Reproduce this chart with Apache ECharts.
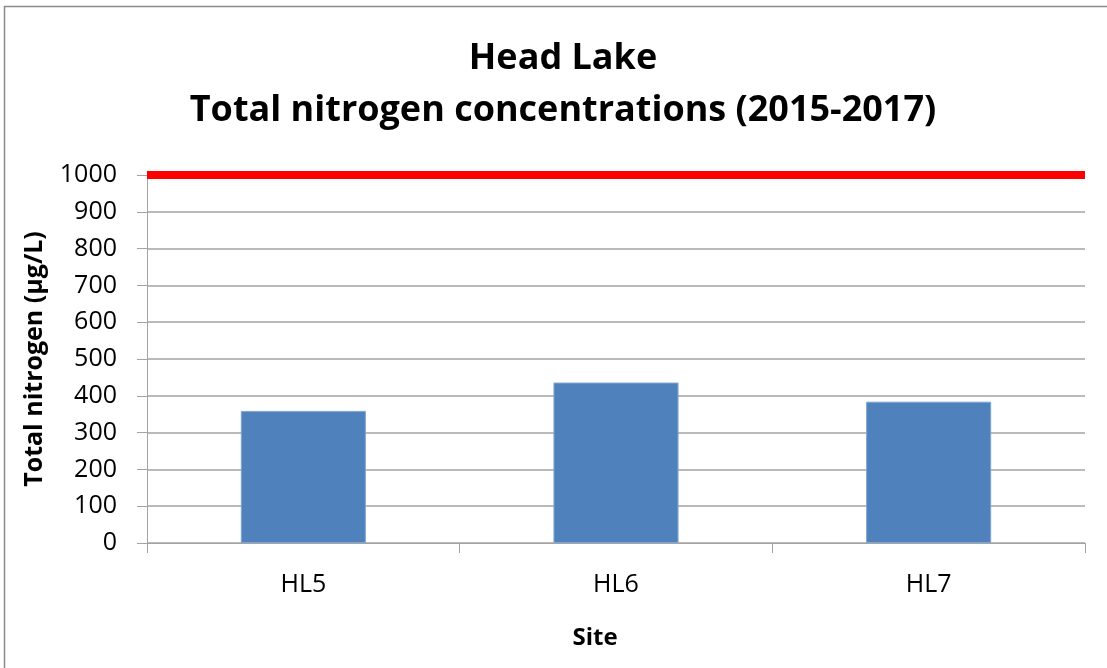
<!DOCTYPE html>
<html>
<head>
<meta charset="utf-8">
<script src="https://cdn.jsdelivr.net/npm/echarts@6/dist/echarts.min.js"></script>
<style>
  html, body { margin: 0; padding: 0; background: #ffffff; }
  #chart { width: 1107px; height: 668px; }
</style>
</head>
<body>
<div id="chart"></div>
<script>
// Sampling sites and mean total nitrogen (µg/L), 2015-2017
const sites = ['HL5', 'HL6', 'HL7'];
const totalNitrogen = [359, 436, 384];
// Reference threshold drawn as a red line
const thresholdValue = 1000;
// Value axis range and step
const yMin = 0;
const yMax = 1000;
const yStep = 100;
// Two-line heading
const titleLines = ['Head Lake', 'Total nitrogen concentrations (2015-2017)'];

const FONT = '"Open Sans", "Liberation Sans", sans-serif';
const GRID_GREY = '#a3a3a3';

const chart = echarts.init(document.getElementById('chart'), null, { renderer: 'canvas' });

chart.setOption({
  backgroundColor: '#ffffff',
  animation: false,
  graphic: [
    {
      type: 'rect',
      silent: true,
      shape: { x: 4.5, y: 6.5, width: 1200, height: 800 },
      style: { fill: 'none', stroke: '#8c8c8c', lineWidth: 1.5 }
    },
    {
      type: 'text',
      silent: true,
      x: 563,
      y: 59,
      style: {
        text: titleLines[0],
        align: 'center',
        verticalAlign: 'middle',
        font: 'bold 36px ' + FONT,
        fill: '#000000'
      }
    },
    {
      type: 'text',
      silent: true,
      x: 563,
      y: 111,
      style: {
        text: titleLines[1],
        align: 'center',
        verticalAlign: 'middle',
        font: 'bold 36px ' + FONT,
        fill: '#000000'
      }
    }
  ],
  grid: {
    left: 147,
    right: 22,
    top: 175,
    bottom: 125,
    containLabel: false
  },
  xAxis: {
    type: 'category',
    data: sites,
    boundaryGap: true,
    name: 'Site',
    nameLocation: 'middle',
    nameGap: 83,
    nameTextStyle: {
      fontFamily: FONT,
      fontWeight: 'bold',
      fontSize: 24,
      color: '#000000',
      padding: [0, 42, 0, 0]
    },
    axisLine: { show: true, lineStyle: { color: GRID_GREY, width: 1 } },
    axisTick: { show: true, interval: 0, length: 10, alignWithLabel: false, lineStyle: { color: GRID_GREY } },
    axisLabel: {
      margin: 29,
      fontFamily: FONT,
      fontSize: 25,
      color: '#000000'
    },
    splitLine: { show: false }
  },
  yAxis: {
    type: 'value',
    min: yMin,
    max: yMax,
    interval: yStep,
    name: 'Total nitrogen (µg/L)',
    nameLocation: 'middle',
    nameGap: 100,
    nameRotate: 90,
    nameTextStyle: {
      fontFamily: FONT,
      fontWeight: 'bold',
      fontSize: 25,
      color: '#000000'
    },
    axisLine: { show: true, lineStyle: { color: GRID_GREY, width: 1 } },
    axisTick: { show: true, length: 10, lineStyle: { color: GRID_GREY } },
    axisLabel: {
      margin: 30,
      fontFamily: FONT,
      fontSize: 25,
      color: '#000000',
      formatter: function (v) { return String(v); }
    },
    splitLine: { show: true, lineStyle: { color: GRID_GREY, width: 1.5 } }
  },
  series: [
    {
      type: 'bar',
      data: totalNitrogen,
      barCategoryGap: '60%',
      itemStyle: {
        color: '#4f81bd',
        borderColor: '#7fa5d3',
        borderWidth: 1
      },
      markLine: {
        silent: true,
        symbol: ['none', 'none'],
        label: { show: false },
        lineStyle: { color: '#ff0000', width: 8, type: 'solid' },
        emphasis: { disabled: true },
        data: [{ yAxis: thresholdValue }]
      }
    }
  ]
});
</script>
</body>
</html>
